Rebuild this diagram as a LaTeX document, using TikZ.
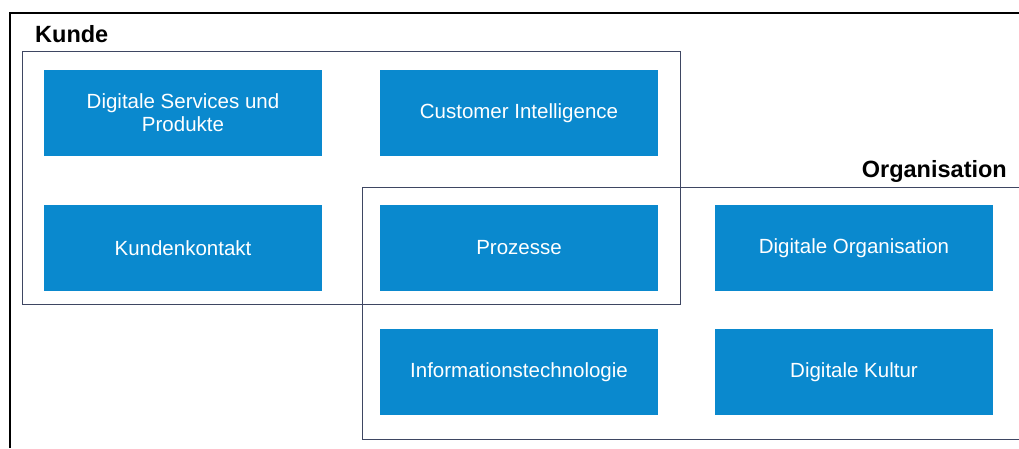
\documentclass[tikz,border=0pt]{standalone}
\usepackage{fontspec}
\setmainfont{Liberation Sans}
\usepackage{xcolor}
\usepackage{tikz}
\definecolor{tileblue}{RGB}{10,137,206}
\definecolor{groupline}{RGB}{62,70,98}
\tikzset{
    frame/.style={line width=2pt, black},
    group/.style={line width=1pt, groupline},
    tile/.style={fill=tileblue, draw=none, minimum width=278pt, minimum height=86pt,
        text=white, align=center, font=\fontsize{20.5}{23}\selectfont},
    grouplabel/.style={font=\fontsize{23.5}{27}\selectfont\bfseries, inner sep=0pt}
}

\begin{document}
\begin{tikzpicture}[x=1pt, y=-1pt]
    \useasboundingbox (0,0) rectangle (1019,448);
    % outer frame (cut off right and below)
    \draw[frame] (10,448) -- (10,13) -- (1019,13);
    % Kunde
    \draw[group] (22,51) rectangle (680,304);
    \node[grouplabel, anchor=base west] (kundelbl) at (35,42) {Kunde};
    % Organisation
    \draw[group] (1019,187) -- (362,187) -- (362,439) -- (1019,439);
    \node[grouplabel, anchor=base east] (orglbl) at (1007,177) {Organisation};
    % tiles
    \node[tile] (dsp) at (183,113) {Digitale Services und\\Produkte};
    \node[tile] (ci) at (519,113) {Customer Intelligence};
    \node[tile] (kk) at (183,248) {Kundenkontakt};
    \node[tile] (proz) at (519,248) {Prozesse};
    \node[tile] (dorg) at (854,248) {Digitale Organisation};
    \node[tile] (it) at (519,372) {Informationstechnologie};
    \node[tile] (dk) at (854,372) {Digitale Kultur};
\end{tikzpicture}
\end{document}
